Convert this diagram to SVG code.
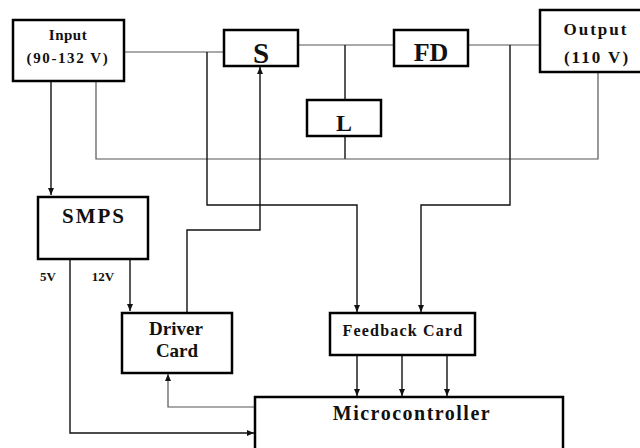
<svg xmlns="http://www.w3.org/2000/svg" width="640" height="448" viewBox="0 0 640 448">
<style>
.box{fill:#fff;stroke:#000;stroke-width:2.5}
.t{font-family:"Liberation Serif",serif;font-weight:bold;fill:#111;text-anchor:middle}
.w{fill:none;stroke:#555;stroke-width:1.2}
.k{fill:none;stroke:#111;stroke-width:1.4}
</style>
<defs>
<marker id="a" markerWidth="8" markerHeight="8" refX="7" refY="4" orient="auto" markerUnits="userSpaceOnUse">
<path d="M0,1 L7,4 L0,7 Z" fill="#111"/>
</marker>
</defs>
<rect width="640" height="448" fill="#fff"/>
<g id="connectors">
<path class="w" d="M124,52 H224"/>
<path class="w" d="M298,45 H394"/>
<path class="w" d="M468,45 H540"/>
<path class="k" d="M345,45 V100"/>
<path class="k" d="M345,136 V159"/>
<path class="w" d="M96,81 V159 H598 V72"/>
<path class="k" d="M51,81 V195" marker-end="url(#a)"/>
<path class="k" d="M207,52 V205 H357 V312" marker-end="url(#a)"/>
<path class="k" d="M510,45 V205 H421 V312" marker-end="url(#a)"/>
<path class="k" d="M187,312 V230 H260 V67" marker-end="url(#a)"/>
<path class="k" d="M130,259 V311" marker-end="url(#a)"/>
<path class="k" d="M70,259 V433 H254" marker-end="url(#a)"/>
<path class="w" d="M255,407 H168 V374" marker-end="url(#a)"/>
<path class="k" d="M357,355 V396" marker-end="url(#a)"/>
<path class="k" d="M402,355 V396" marker-end="url(#a)"/>
<path class="k" d="M447,355 V396" marker-end="url(#a)"/>
</g>
<g id="input">
<rect class="box" x="13" y="20" width="111" height="61"/>
<text class="t" x="68" y="40" font-size="15" letter-spacing="0.5">Input</text>
<text class="t" x="68" y="63" font-size="15" letter-spacing="1.6">(90-132 V)</text>
</g>
<g id="s">
<rect class="box" x="224" y="30" width="74" height="36"/>
<text class="t" x="261" y="63" font-size="29">S</text>
</g>
<g id="fd">
<rect class="box" x="394" y="30" width="74" height="36"/>
<text class="t" x="431" y="61" font-size="26">FD</text>
</g>
<g id="l">
<rect class="box" x="307" y="100" width="74" height="36"/>
<text class="t" x="344" y="131" font-size="24">L</text>
</g>
<g id="output">
<rect class="box" x="540" y="10" width="110" height="62"/>
<text class="t" x="596" y="35" font-size="17" letter-spacing="2">Output</text>
<text class="t" x="597" y="63" font-size="17" letter-spacing="2">(110 V)</text>
</g>
<g id="smps">
<rect class="box" x="38" y="197" width="110" height="62"/>
<text class="t" x="94" y="223" font-size="21" letter-spacing="2">SMPS</text>
</g>
<text class="t" x="48" y="281" font-size="13">5V</text>
<text class="t" x="103" y="281" font-size="13">12V</text>
<g id="driver">
<rect class="box" x="122" y="313" width="110" height="60"/>
<text class="t" x="176" y="335" font-size="19">Driver</text>
<text class="t" x="177" y="357" font-size="19">Card</text>
</g>
<g id="feedback">
<rect class="box" x="330" y="313" width="145" height="42"/>
<text class="t" x="403" y="336" font-size="16" letter-spacing="1.2">Feedback Card</text>
</g>
<g id="micro">
<rect class="box" x="255" y="397" width="308" height="60"/>
<text class="t" x="412" y="420" font-size="20" letter-spacing="1.5">Microcontroller</text>
</g>
</svg>
